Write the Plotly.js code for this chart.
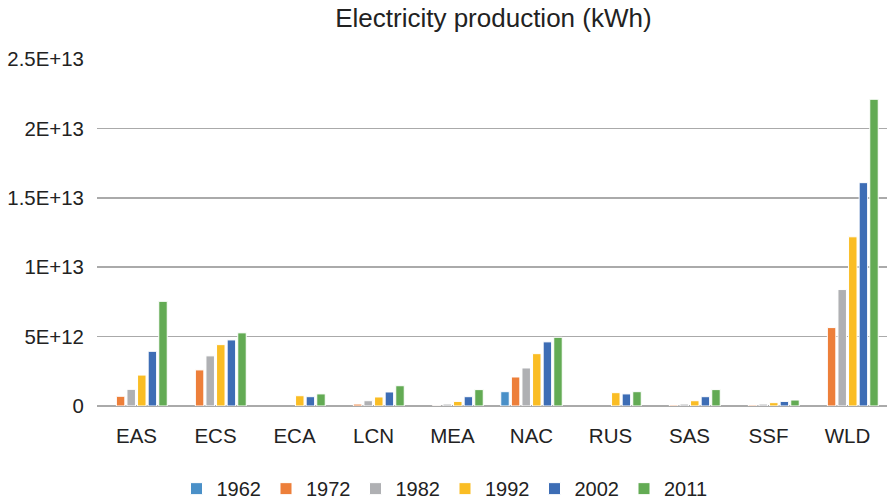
<!DOCTYPE html>
<html><head><meta charset="utf-8">
<script src="https://cdn.plot.ly/plotly-3.0.1.min.js"></script>
<style>html,body{margin:0;padding:0;background:#fff}#chart{width:889px;height:503px}</style>
</head><body><div id="chart"></div>
<script>
const categories = ["EAS","ECS","ECA","LCN","MEA","NAC","RUS","SAS","SSF","WLD"];
const years = ["1962","1972","1982","1992","2002","2011"];
const v1962 = [null,null,null,null,null,1.03e12,null,null,null,null];
const v1972 = [0.70e12,2.60e12,null,0.14e12,0.02e12,2.09e12,null,0.07e12,0.07e12,5.65e12];
const v1982 = [1.20e12,3.61e12,null,0.38e12,0.14e12,2.74e12,null,0.14e12,0.14e12,8.39e12];
const v1992 = [2.23e12,4.42e12,0.74e12,0.65e12,0.33e12,3.77e12,0.96e12,0.38e12,0.24e12,12.19e12];
const v2002 = [3.94e12,4.76e12,0.67e12,1.01e12,0.67e12,4.62e12,0.87e12,0.67e12,0.33e12,16.09e12];
const v2011 = [7.54e12,5.27e12,0.87e12,1.46e12,1.18e12,4.95e12,1.03e12,1.18e12,0.43e12,22.10e12];
const tickValues = [0,5e12,1e13,1.5e13,2e13,2.5e13];
const tickLabels = ["0","5E+12","1E+13","1.5E+13","2E+13","2.5E+13"];
const series = [v1962,v1972,v1982,v1992,v2002,v2011];
const colors = ["#4A90C8","#ED7F3A","#AFB0B3","#FABD24","#3D6DB5","#63AB54"];

const traces = series.map((vals,i)=>({
  type:'bar', name:years[i], x:categories, y:vals,
  marker:{color:colors[i], line:{color:'#ffffff', width:1}}
}));

const layout = {
  width:889, height:503,
  margin:{l:97,r:2,t:59,b:97, autoexpand:false},
  paper_bgcolor:'#fff', plot_bgcolor:'#fff',
  font:{family:'"Liberation Sans", Arial, sans-serif', size:20, color:'#222'},
  title:{text:'Electricity production (kWh)', font:{size:26, color:'#222'}, x:0.555, xanchor:'center', y:0.964, yanchor:'middle'},
  barmode:'group', bargap:0.195, bargroupgap:0.2,
  showlegend:true,
  legend:{orientation:'h', x:0.5, xref:'container', xanchor:'center', y:-0.182, yref:'paper', yanchor:'top', font:{size:20}, itemwidth:30, traceorder:'normal'},
  xaxis:{showgrid:false, showline:false, ticks:'outside', ticklen:11, tickcolor:'rgba(0,0,0,0)', tickfont:{size:20.5}},
  yaxis:{range:[0,2.5e13], tickvals:tickValues, ticktext:tickLabels, showgrid:true, gridcolor:'#AAAAAA', gridwidth:1.5,
    zeroline:true, zerolinecolor:'#AAAAAA', zerolinewidth:1.5, showline:false,
    ticks:'outside', ticklen:8, tickcolor:'rgba(0,0,0,0)', tickfont:{size:20.4}}
};
Plotly.newPlot('chart', traces, layout, {displayModeBar:false, staticPlot:true});
</script></body></html>
